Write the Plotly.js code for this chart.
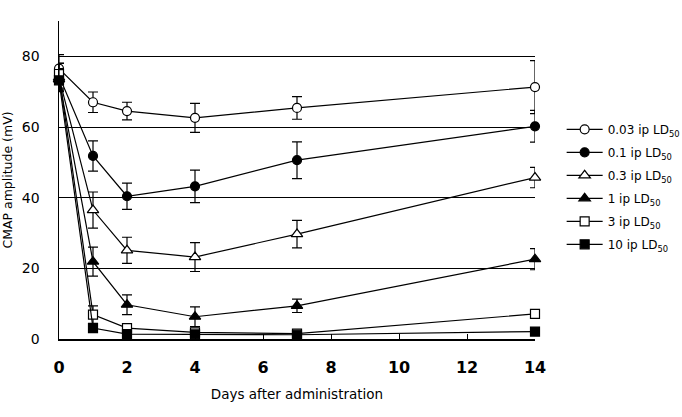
<!DOCTYPE html>
<html>
<head>
<meta charset="utf-8">
<script src="https://cdn.plot.ly/plotly-3.0.1.min.js"></script>
<style>
  html, body { margin: 0; padding: 0; background: #fff; }
  #chart { width: 682px; height: 417px; }
</style>
</head>
<body>
<div id="chart"></div>
<script>
// Days after administration
const days = [0, 1, 2, 4, 7, 14];

// Dose groups (legend labels)
const doseLabels = [
  "0.03 ip LD<sub>50</sub>",
  "0.1 ip LD<sub>50</sub>",
  "0.3 ip LD<sub>50</sub>",
  "1 ip LD<sub>50</sub>",
  "3 ip LD<sub>50</sub>",
  "10 ip LD<sub>50</sub>"
];

// Mean CMAP amplitude (mV) per dose group
const cmap003 = [76.5, 67.0, 64.5, 62.6, 65.4, 71.3];
const cmap01  = [74.5, 51.8, 40.4, 43.2, 50.6, 60.2];
const cmap03  = [74.0, 36.5, 25.1, 23.2, 29.7, 45.7];
const cmap1   = [73.5, 21.9, 9.7, 6.3, 9.4, 22.6];
const cmap3   = [75.0, 6.9, 3.1, 1.9, 1.5, 7.1];
const cmap10  = [73.2, 3.1, 1.4, 1.3, 1.2, 2.1];

// Error (mV) per dose group
const err003 = [4.0, 2.9, 2.5, 4.1, 3.2, 7.5];
const err01  = [3.5, 4.3, 3.7, 4.6, 5.2, 4.5];
const err03  = [4.0, 5.1, 3.7, 4.1, 3.9, 2.9];
const err1   = [3.0, 4.1, 2.8, 2.8, 1.9, 3.0];
const err3   = [3.0, 2.5, 0.0, 0.0, 0.0, 0.0];
const err10  = [3.0, 0.0, 0.0, 0.0, 0.0, 0.0];

const seriesValues = [cmap003, cmap01, cmap03, cmap1, cmap3, cmap10];
const seriesErrors = [err003, err01, err03, err1, err3, err10];
const seriesSymbols = ["circle", "circle", "triangle-up", "triangle-up", "square", "square"];
const seriesFills = ["#ffffff", "#000000", "#ffffff", "#000000", "#ffffff", "#000000"];

const traces = seriesValues.map((vals, i) => ({
  x: days,
  y: vals,
  name: doseLabels[i],
  legendgroup: "g" + i,
  type: "scatter",
  mode: "lines+markers",
  cliponaxis: false,
  line: { color: "#000", width: 1.2 },
  marker: {
    symbol: seriesSymbols[i],
    size: seriesSymbols[i] === "triangle-up" ? 10 : 9,
    color: seriesFills[i],
    line: { color: "#000", width: 1.2 }
  },
  error_y: {
    type: "data",
    array: seriesErrors[i],
    visible: true,
    color: "#000",
    thickness: 1.2,
    width: 5
  }
}));

const layout = {
  width: 682,
  height: 417,
  margin: { l: 59, r: 147, t: 21, b: 78, autoexpand: false },
  paper_bgcolor: "#fff",
  plot_bgcolor: "#fff",
  font: { family: "DejaVu Sans, sans-serif", color: "#000", size: 13 },
  showlegend: true,
  legend: {
    x: 1.056, xanchor: "left",
    y: 0.705, yanchor: "top",
    font: { size: 12, color: "#000" },
    bgcolor: "rgba(0,0,0,0)",
    tracegroupgap: 4,
    itemwidth: 36
  },
  xaxis: {
    range: [0, 14],
    tickmode: "array",
    tickvals: [0, 2, 4, 6, 8, 10, 12, 14],
    ticks: "inside",
    ticklen: 5,
    tickcolor: "#000",
    tickwidth: 1,
    showgrid: false,
    zeroline: false,
    showline: true,
    linecolor: "#000",
    linewidth: 1.5,
    tickfont: { size: 16, weight: "bold" },
    ticklabelstandoff: 13,
    title: { text: "Days after administration", font: { size: 13.5 }, standoff: 14 }
  },
  yaxis: {
    range: [0, 90],
    tickmode: "array",
    tickvals: [0, 20, 40, 60, 80],
    ticks: "",
    showgrid: true,
    gridcolor: "#000",
    gridwidth: 1,
    zeroline: false,
    showline: true,
    linecolor: "#000",
    linewidth: 1.5,
    tickfont: { size: 14 },
    ticklabelstandoff: 15,
    title: { text: "CMAP amplitude (mV)", font: { size: 12.5 }, standoff: 11 }
  }
};

Plotly.newPlot("chart", traces, layout, { displayModeBar: false, staticPlot: true });
</script>
</body>
</html>
